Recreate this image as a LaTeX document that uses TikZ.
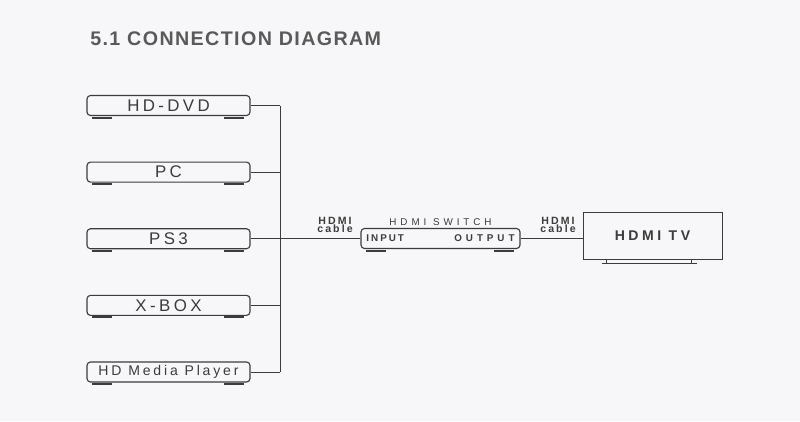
\documentclass[tikz,border=0pt]{standalone}
\usepackage{fontspec}
\setmainfont{Liberation Sans}
\newfontfamily\spaced[LetterSpace=20]{Liberation Sans}
\newfontfamily\wide[LetterSpace=40]{Liberation Sans}
\newfontfamily\tvfont[LetterSpace=25]{Liberation Sans}
\newfontfamily\titlefont[LetterSpace=7]{Liberation Sans}
\usetikzlibrary{positioning}

\definecolor{ink}{HTML}{3C3C3C}
\definecolor{titlegray}{HTML}{5A5A5A}
\definecolor{paper}{HTML}{F7F7F9}

\tikzset{
  devbox/.style={draw=ink, line width=0.8pt, rounded corners=2.5pt,
    minimum width=4.075cm, minimum height=0.5cm, inner sep=0pt,
    text=ink, font=\spaced\fontsize{12}{12}\selectfont},
  wire/.style={draw=ink, line width=0.6pt},
  foot/.style={draw=ink, line width=1.5pt},
  tag/.style={inner sep=0pt, align=center, text=ink,
    font=\spaced\bfseries\fontsize{7.5}{6}\selectfont},
}

\begin{document}
\begin{tikzpicture}[x=0.025cm, y=-0.025cm]
\fill[paper] (0,0) rectangle (800,421);

\node[anchor=base west, inner sep=0pt, text=titlegray,
  font=\titlefont\bfseries\fontsize{14}{14}\selectfont] (title) at (90,45) {5.1 CONNECTION DIAGRAM};

% sources
\node[devbox] (hddvd) at (168.5,105.5) {HD-DVD};
\node[devbox, below=1.137cm of hddvd] (pc) {PC};
\node[devbox, below=1.137cm of pc] (ps3) {PS3};
\node[devbox, below=1.137cm of ps3] (xbox) {X-BOX};
\node[devbox, below=1.137cm of xbox, font=\spaced\fontsize{10}{10}\selectfont] (mediaplayer) {HD Media Player};

% switch and tv
\node[devbox, minimum width=3.975cm, text width=3.7cm,
  font=\bfseries\fontsize{7}{7}\selectfont] (switch) at (440.5,238.5) {\spaced INPUT\hfill\wide OUTPUT};
\node[draw=ink, line width=0.7pt, minimum width=3.475cm, minimum height=1.175cm,
  text=ink, font=\tvfont\bfseries\fontsize{10}{10}\selectfont] (tv) at (652.5,235.5) {HDMI TV};

\node[above=0.05cm of switch, inner sep=0pt, text=ink,
  font=\wide\fontsize{7}{7}\selectfont] (switchname) {HDMI SWITCH};
\node[tag] (cablein) at (335,225) {HDMI\\cable};
\node[tag] (cableout) at (558,225) {HDMI\\cable};

% wiring
\coordinate (bus) at (280,0);
\foreach \dev in {hddvd,pc,ps3,xbox,mediaplayer}
  \draw[wire] (\dev.east) -- (\dev.east -| bus);
\draw[wire] (hddvd.east -| bus) -- (mediaplayer.east -| bus);
\draw[wire] (switch.west -| bus) -- (switch.west);
\draw[wire] (switch.east) -- (switch.east -| tv.west);

% feet
\foreach \dev in {hddvd,pc,ps3,xbox,mediaplayer,switch}
  \draw[foot] (\dev.south west) ++(6,1.5) -- ++(20,0)
              (\dev.south east) ++(-7,1.5) -- ++(-20,0);

% tv stand
\path (tv.south west) ++(19,4) coordinate (standl);
\draw[ink, line width=1.1pt] (standl) -- ++(95,0);
\draw[ink, line width=0.8pt] (standl) ++(5,0) -- ++(0,-4)
                             (standl) ++(90,0) -- ++(0,-4);
\end{tikzpicture}
\end{document}
